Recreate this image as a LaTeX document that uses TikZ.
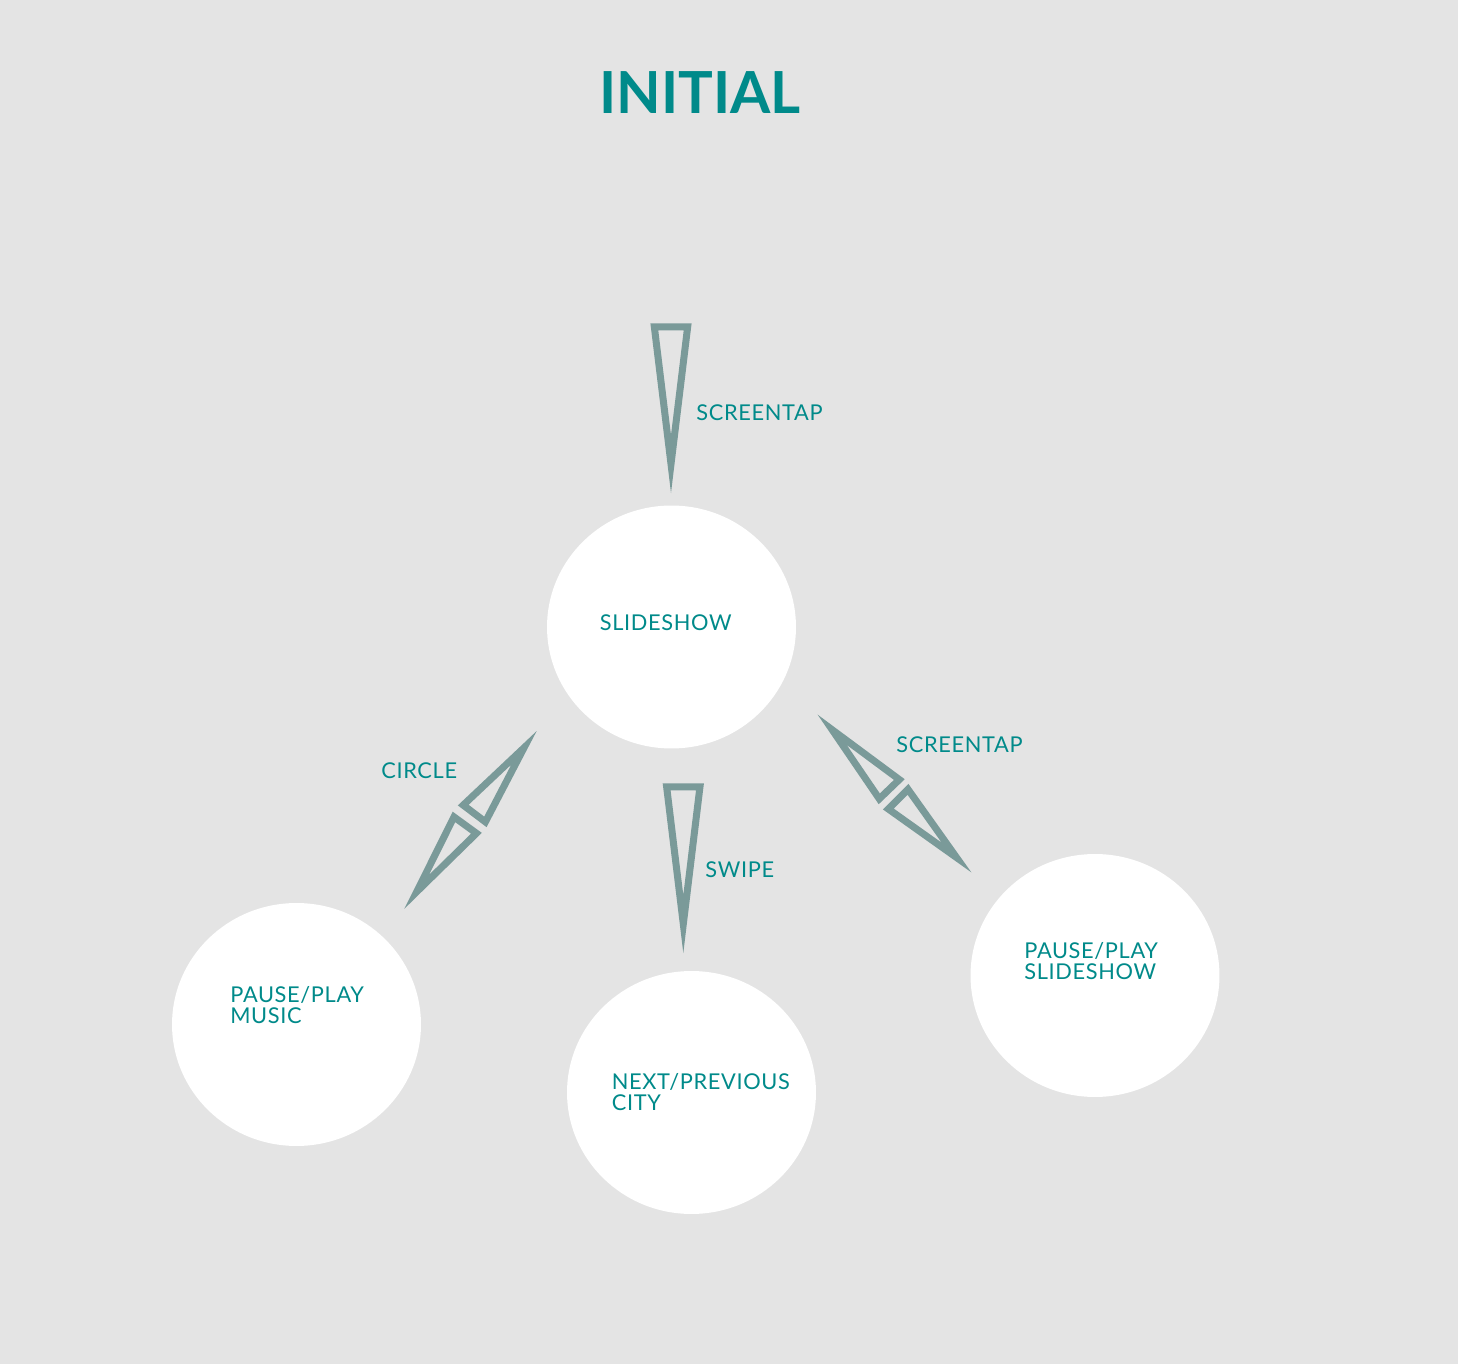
\documentclass[tikz,border=0pt]{standalone}
\usepackage{fontspec}
\setmainfont{Lato}
\newfontfamily\labelfont{Lato}[LetterSpace=3]
\usetikzlibrary{shapes, calc}

\definecolor{tealtext}{RGB}{0,138,138}
\definecolor{wedgegray}{RGB}{122,154,153}
\definecolor{bggray}{RGB}{228,228,228}

\newcommand{\wedgearrow}[3]{%
	\draw[wedge] ($(#1)!#3!90:(#2)$) -- (#2) -- ($(#1)!#3!-90:(#2)$) -- cycle;}

\begin{document}
\begin{tikzpicture}[x=0.02cm, y=-0.02cm,
	state/.style={fill=white, ellipse, minimum width=4.98cm, minimum height=4.86cm},
	statetext/.style={text=tealtext, font=\labelfont\fontsize{12.4}{11.9}\selectfont, align=left, anchor=base west, inner sep=0pt},
	edgelabel/.style={text=tealtext, font=\labelfont\fontsize{12.4}{14}\selectfont, anchor=base west, inner sep=0pt},
	wedge/.style={draw=wedgegray, line width=0.14cm, line join=miter, miter limit=20}]
	
	% Background
	\fill[bggray] (0,0) rectangle (1458,1364);
	
	% Title
	\node[text=tealtext, font=\fontsize{33}{33}\selectfont\bfseries, anchor=base] (title) at (700,114) {INITIAL};
	
	% States
	\node[state] (slide) at (671.5,627) {};
	\node[state] (music) at (296.5,1024.5) {};
	\node[state] (city) at (691.5,1092.5) {};
	\node[state] (slideplay) at (1095,975.5) {};
	
	\node[statetext] (slide-text) at (599.5,631) {SLIDESHOW};
	\node[statetext] (music-text) at (230,1023) {PAUSE/PLAY\\MUSIC};
	\node[statetext] (city-text) at (611.5,1110) {NEXT/PREVIOUS\\CITY};
	\node[statetext] (slideplay-text) at (1024,979) {PAUSE/PLAY\\SLIDESHOW};
	
	% Wedge ends
	\coordinate (tap-base) at (671,327);
	\coordinate (tap-tip) at (671,464);
	\coordinate (swipe-base) at (683.3,787);
	\coordinate (swipe-tip) at (683.3,924);
	\coordinate (circle-up-base) at (474.3,813.5);
	\coordinate (circle-up-tip) at (524,747.8);
	\coordinate (circle-down-base) at (465.2,825.1);
	\coordinate (circle-down-tip) at (416.7,891.8);
	\coordinate (pause-up-base) at (889.3,789.2);
	\coordinate (pause-up-tip) at (832.2,729.8);
	\coordinate (pause-down-base) at (898.2,799.2);
	\coordinate (pause-down-tip) at (956.5,857.5);
	
	% Wedges
	\wedgearrow{tap-base}{tap-tip}{0.333cm}
	\wedgearrow{swipe-base}{swipe-tip}{0.333cm}
	\wedgearrow{circle-up-base}{circle-up-tip}{0.278cm}
	\wedgearrow{circle-down-base}{circle-down-tip}{0.278cm}
	\wedgearrow{pause-up-base}{pause-up-tip}{0.278cm}
	\wedgearrow{pause-down-base}{pause-down-tip}{0.278cm}
	
	% Wedge labels
	\node[edgelabel] (tap-label) at (696,421) {SCREENTAP};
	\node[edgelabel] (circle-label) at (381,779) {CIRCLE};
	\node[edgelabel] (swipe-label) at (705,878) {SWIPE};
	\node[edgelabel] (pause-label) at (896,753) {SCREENTAP};
	
\end{tikzpicture}
\end{document}
